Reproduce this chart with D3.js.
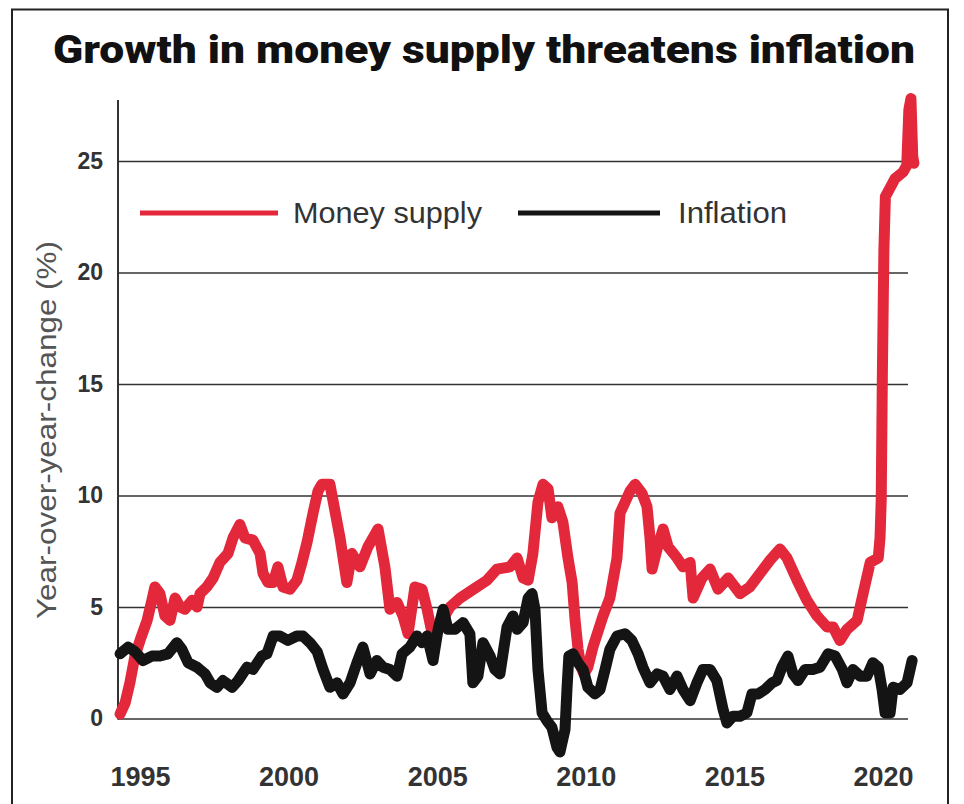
<!DOCTYPE html>
<html>
<head>
<meta charset="utf-8">
<script src="https://cdn.jsdelivr.net/npm/d3@7"></script>
<style>
  html, body { margin: 0; padding: 0; background: #fff; }
  svg { display: block; }
</style>
</head>
<body>
<svg id="chart" width="964" height="804"></svg>
<script>
// ---------- DATA ----------
const chartTitle = "Growth in money supply threatens inflation";
const yAxisTitle = "Year-over-year-change (%)";
const seriesNames = ["Money supply", "Inflation"];
const xTickValues = [1995, 2000, 2005, 2010, 2015, 2020];
const yTickValues = [0, 5, 10, 15, 20, 25];

const moneyYears = [
  1994.33, 1994.50, 1994.66, 1994.83, 1995.00, 1995.24, 1995.40, 1995.50, 1995.67, 1995.84,
  1996.01, 1996.18, 1996.35, 1996.51, 1996.75, 1996.92, 1997.02, 1997.25, 1997.46, 1997.69,
  1997.96, 1998.13, 1998.36, 1998.53, 1998.80, 1999.04, 1999.14, 1999.31, 1999.48, 1999.64,
  1999.81, 2000.05, 2000.28, 2000.45, 2000.62, 2000.82, 2000.99, 2001.12, 2001.39, 2001.49,
  2001.73, 2001.96, 2002.13, 2002.40, 2002.67, 2003.01, 2003.24, 2003.41, 2003.65, 2003.85,
  2004.02, 2004.25, 2004.49, 2004.66, 2004.83, 2004.99, 2005.43, 2005.77, 2006.34, 2006.68,
  2007.01, 2007.45, 2007.69, 2007.89, 2008.06, 2008.22, 2008.39, 2008.56, 2008.73, 2008.86,
  2009.06, 2009.23, 2009.40, 2009.54, 2009.64, 2009.74, 2009.84, 2009.94, 2010.07, 2010.24,
  2010.58, 2010.81, 2011.05, 2011.15, 2011.32, 2011.49, 2011.66, 2011.89, 2012.06, 2012.16,
  2012.23, 2012.40, 2012.60, 2012.77, 2013.07, 2013.27, 2013.51, 2013.61, 2013.91, 2014.18,
  2014.45, 2014.79, 2015.19, 2015.52, 2015.86, 2016.20, 2016.53, 2016.77, 2017.11, 2017.44,
  2017.78, 2018.12, 2018.32, 2018.55, 2018.79, 2019.13, 2019.33, 2019.57, 2019.84, 2019.90,
  2019.94, 2019.98, 2020.03, 2020.08, 2020.24, 2020.40, 2020.67, 2020.80, 2020.87, 2020.94,
  2021.00, 2021.04
];
const moneyValues = [
  0.2, 0.7, 1.6, 2.8, 3.5, 4.4, 5.3, 5.9, 5.6, 4.6,
  4.4, 5.4, 5.0, 4.9, 5.3, 5.0, 5.6, 5.9, 6.3, 7.0,
  7.4, 8.1, 8.7, 8.1, 8.0, 7.4, 6.5, 6.1, 6.1, 6.8,
  5.9, 5.8, 6.2, 7.0, 7.9, 9.2, 10.2, 10.5, 10.5, 9.8,
  8.1, 6.1, 7.4, 6.8, 7.7, 8.5, 6.8, 4.9, 5.2, 4.6,
  3.8, 5.9, 5.8, 4.9, 3.8, 4.0, 5.0, 5.4, 5.9, 6.2,
  6.7, 6.8, 7.2, 6.3, 6.2, 7.4, 9.7, 10.5, 10.3, 9.0,
  9.5, 8.8, 7.2, 6.1, 4.4, 3.1, 2.3, 2.0, 2.3, 3.2,
  4.6, 5.4, 7.2, 9.2, 9.7, 10.2, 10.5, 10.1, 9.5, 8.1,
  6.7, 7.6, 8.5, 7.7, 7.2, 6.8, 7.0, 5.4, 6.3, 6.7,
  5.8, 6.3, 5.6, 5.9, 6.5, 7.1, 7.6, 7.2, 6.2, 5.3,
  4.6, 4.1, 4.1, 3.5, 4.0, 4.4, 5.6, 7.0, 7.2, 8.1,
  9.8, 15.6, 21.0, 23.4, 23.8, 24.2, 24.5, 24.8, 27.3, 27.8,
  25.2, 24.9
];

const inflationYears = [
  1994.33, 1994.60, 1994.83, 1995.10, 1995.40, 1995.67, 1995.94, 1996.24, 1996.41, 1996.62,
  1996.92, 1997.19, 1997.36, 1997.59, 1997.79, 1998.10, 1998.30, 1998.60, 1998.80, 1999.10,
  1999.27, 1999.48, 1999.71, 1999.98, 2000.28, 2000.48, 2000.72, 2000.96, 2001.16, 2001.39,
  2001.63, 2001.83, 2002.07, 2002.30, 2002.50, 2002.74, 2002.97, 2003.18, 2003.41, 2003.65,
  2003.82, 2004.08, 2004.32, 2004.49, 2004.66, 2004.86, 2005.03, 2005.20, 2005.36, 2005.60,
  2005.87, 2006.10, 2006.20, 2006.37, 2006.54, 2006.78, 2006.94, 2007.11, 2007.35, 2007.55,
  2007.69, 2007.89, 2008.06, 2008.19, 2008.29, 2008.39, 2008.53, 2008.69, 2008.86, 2009.03,
  2009.13, 2009.30, 2009.37, 2009.43, 2009.57, 2009.74, 2009.91, 2010.07, 2010.31, 2010.48,
  2010.65, 2010.81, 2011.05, 2011.32, 2011.55, 2011.76, 2011.92, 2012.16, 2012.40, 2012.60,
  2012.83, 2013.07, 2013.27, 2013.51, 2013.74, 2013.94, 2014.18, 2014.41, 2014.62, 2014.75,
  2014.95, 2015.19, 2015.42, 2015.59, 2015.80, 2016.03, 2016.27, 2016.43, 2016.60, 2016.80,
  2016.97, 2017.14, 2017.38, 2017.64, 2017.88, 2018.15, 2018.39, 2018.63, 2018.79, 2018.99,
  2019.23, 2019.46, 2019.66, 2019.84, 2019.97, 2020.07, 2020.24, 2020.34, 2020.57, 2020.81,
  2020.98
];
const inflationValues = [
  2.9, 3.2, 3.0, 2.6, 2.8, 2.8, 2.9, 3.4, 3.1, 2.5,
  2.3, 2.0, 1.6, 1.4, 1.7, 1.4, 1.7, 2.3, 2.2, 2.8,
  2.9, 3.7, 3.7, 3.5, 3.7, 3.7, 3.4, 3.0, 2.2, 1.4,
  1.6, 1.1, 1.6, 2.5, 3.2, 2.0, 2.6, 2.3, 2.2, 1.9,
  2.9, 3.2, 3.7, 3.4, 3.7, 2.6, 4.0, 4.9, 4.0, 4.0,
  4.3, 3.8, 1.6, 1.9, 3.4, 2.8, 2.2, 2.0, 4.1, 4.6,
  4.0, 4.3, 5.4, 5.6, 4.9, 2.2, 0.25, -0.1, -0.4, -1.3,
  -1.5, -0.5, 1.4, 2.8, 2.9, 2.5, 2.2, 1.4, 1.1, 1.3,
  2.2, 3.1, 3.7, 3.8, 3.5, 2.9, 2.3, 1.6, 2.0, 1.9,
  1.3, 1.9, 1.3, 0.8, 1.6, 2.2, 2.2, 1.7, 0.4, -0.2,
  0.1, 0.1, 0.25, 1.1, 1.1, 1.3, 1.6, 1.7, 2.3, 2.8,
  2.0, 1.7, 2.2, 2.2, 2.3, 2.9, 2.8, 2.2, 1.6, 2.2,
  1.9, 1.9, 2.5, 2.3, 1.3, 0.25, 0.25, 1.4, 1.3, 1.6,
  2.6
];

// ---------- CHART ----------
const svg = d3.select("#chart");
const W = 964, H = 804;

const plotLeft = 118, plotRight = 908;
const x = d3.scaleLinear().domain([1995, 2020]).range([140, 883]);
const y = d3.scaleLinear().domain([0, 25]).range([718.5, 161]);

// outer frame (open at bottom)
svg.append("path")
  .attr("d", `M12,${H} L12,9.5 L948,9.5 L948,${H}`)
  .attr("fill", "none").attr("stroke", "#222").attr("stroke-width", 2);

// title
svg.append("text")
  .attr("x", 484).attr("y", 63)
  .attr("text-anchor", "middle")
  .attr("font-family", "Roboto, 'Liberation Sans', Arial, sans-serif")
  .attr("font-weight", 900)
  .attr("font-size", 39)
  .attr("fill", "#111")
  .attr("textLength", 862)
  .attr("lengthAdjust", "spacingAndGlyphs")
  .text(chartTitle);

// y gridlines + labels
const yAxis = d3.axisLeft(y)
  .tickValues(yTickValues)
  .tickSize(-(plotRight - plotLeft))
  .tickPadding(15)
  .tickFormat(d3.format("d"));
const gy = svg.append("g")
  .attr("transform", `translate(${plotLeft},0)`)
  .call(yAxis);
gy.select(".domain").remove();
gy.selectAll(".tick line").attr("stroke", "#333").attr("stroke-width", 1.6);
gy.selectAll(".tick text")
  .attr("font-family", "'Liberation Sans', Arial, Helvetica, sans-serif")
  .attr("font-weight", "bold")
  .attr("font-size", 23)
  .attr("fill", "#333");

// vertical axis line
svg.append("line")
  .attr("x1", plotLeft).attr("x2", plotLeft)
  .attr("y1", 100).attr("y2", y(0) + 1)
  .attr("stroke", "#333").attr("stroke-width", 2);

// x axis labels
const xAxis = d3.axisBottom(x)
  .tickValues(xTickValues)
  .tickSize(0)
  .tickPadding(0)
  .tickFormat(d3.format("d"));
const gx = svg.append("g")
  .attr("transform", `translate(0,${y(0)})`)
  .call(xAxis);
gx.select(".domain").remove();
gx.selectAll(".tick text")
  .attr("y", 67).attr("dy", 0)
  .attr("font-family", "'Liberation Sans', Arial, Helvetica, sans-serif")
  .attr("font-weight", "bold")
  .attr("font-size", 27)
  .attr("fill", "#333");

// y axis title
svg.append("text")
  .attr("transform", `translate(56,${430}) rotate(-90)`)
  .attr("text-anchor", "middle")
  .attr("font-family", "'Liberation Sans', Arial, Helvetica, sans-serif")
  .attr("font-size", 27)
  .attr("fill", "#555")
  .attr("textLength", 378)
  .attr("lengthAdjust", "spacingAndGlyphs")
  .text(yAxisTitle);

// lines
const moneyData = moneyYears.map((d, i) => ({ year: d, value: moneyValues[i] }));
const inflationData = inflationYears.map((d, i) => ({ year: d, value: inflationValues[i] }));
const line = d3.line().x(d => x(d.year)).y(d => y(d.value)).curve(d3.curveLinear);

const colors = { money: "#e3283b", inflation: "#141414" };

svg.append("path").datum(moneyData)
  .attr("d", line)
  .attr("fill", "none").attr("stroke", colors.money)
  .attr("stroke-width", 11).attr("stroke-linejoin", "round").attr("stroke-linecap", "round");

svg.append("path").datum(inflationData)
  .attr("d", line)
  .attr("fill", "none").attr("stroke", colors.inflation)
  .attr("stroke-width", 11).attr("stroke-linejoin", "round").attr("stroke-linecap", "round");

// legend
const legend = svg.append("g").attr("transform", "translate(0,213)");
const legendItems = [
  { name: seriesNames[0], color: colors.money, x1: 140, x2: 278, tx: 293, len: 189 },
  { name: seriesNames[1], color: colors.inflation, x1: 518, x2: 660, tx: 678, len: 109 }
];
legendItems.forEach(it => {
  legend.append("line")
    .attr("x1", it.x1).attr("x2", it.x2).attr("y1", 0).attr("y2", 0)
    .attr("stroke", it.color).attr("stroke-width", 5);
  legend.append("text")
    .attr("x", it.tx).attr("y", 10)
    .attr("font-family", "'Liberation Sans', Arial, Helvetica, sans-serif")
    .attr("font-size", 29)
    .attr("fill", "#333")
    .attr("textLength", it.len)
    .attr("lengthAdjust", "spacingAndGlyphs")
    .text(it.name);
});
</script>
</body>
</html>
